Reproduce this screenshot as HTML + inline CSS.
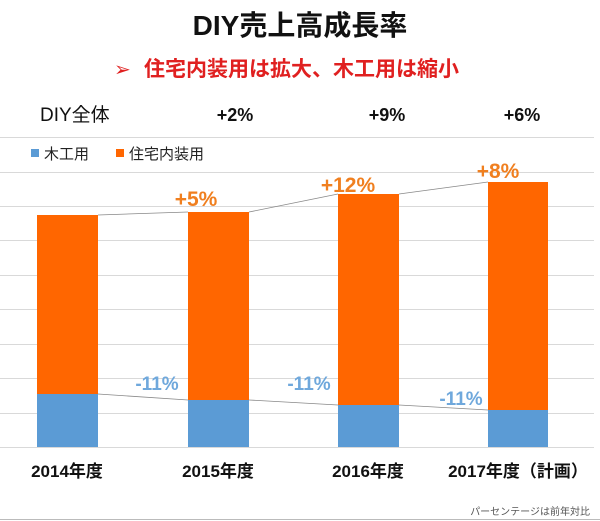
<!DOCTYPE html><html><head><meta charset="utf-8"><style>
body{margin:0;width:600px;height:521px;background:#fff;overflow:hidden;font-family:"Liberation Sans","Noto Sans CJK JP",sans-serif;}
</style></head><body>
<svg width="600" height="521" style="position:absolute;left:0;top:0" font-family="Liberation Sans, Noto Sans CJK JP, sans-serif">
<g stroke="#d9d9d9" stroke-width="1">
<line x1="0" y1="137.5" x2="594" y2="137.5"/>
<line x1="0" y1="172.5" x2="594" y2="172.5"/>
<line x1="0" y1="206.5" x2="594" y2="206.5"/>
<line x1="0" y1="240.5" x2="594" y2="240.5"/>
<line x1="0" y1="275.5" x2="594" y2="275.5"/>
<line x1="0" y1="309.5" x2="594" y2="309.5"/>
<line x1="0" y1="344.5" x2="594" y2="344.5"/>
<line x1="0" y1="378.5" x2="594" y2="378.5"/>
<line x1="0" y1="413.5" x2="594" y2="413.5"/>
<line x1="0" y1="447.5" x2="594" y2="447.5"/>
</g>
<g fill="#ff6600">
<rect x="37" y="215" width="61" height="179"/>
<rect x="188" y="212" width="61" height="188"/>
<rect x="338" y="194" width="61" height="211"/>
<rect x="488" y="182" width="60" height="228"/>
</g>
<g fill="#5b9bd5">
<rect x="37" y="394" width="61" height="53"/>
<rect x="188" y="400" width="61" height="47"/>
<rect x="338" y="405" width="61" height="42"/>
<rect x="488" y="410" width="60" height="37"/>
</g>
<g stroke="#888" stroke-width="0.8">
<line x1="98" y1="215" x2="188" y2="212"/>
<line x1="249" y1="212" x2="338" y2="194"/>
<line x1="399" y1="194" x2="488" y2="182"/>
<line x1="98" y1="394" x2="188" y2="400"/>
<line x1="249" y1="400" x2="338" y2="405"/>
<line x1="399" y1="405" x2="488" y2="410"/>
</g>
<g font-weight="bold" fill="#f07f1f" font-size="21" text-anchor="middle">
<text x="196" y="206">+5%</text>
<text x="348" y="192">+12%</text>
<text x="498" y="178">+8%</text>
</g>
<g font-weight="bold" fill="#6fa8dc" font-size="19" text-anchor="middle">
<text x="157" y="390">-11%</text>
<text x="309" y="390">-11%</text>
<text x="461" y="405">-11%</text>
</g>
<g font-weight="bold" fill="#111" font-size="17" text-anchor="middle">
<text x="67" y="477">2014年度</text>
<text x="218" y="477">2015年度</text>
<text x="368" y="477">2016年度</text>
<text x="518" y="477">2017年度（計画）</text>
</g>
<text x="590" y="515" font-size="10" fill="#555" text-anchor="end">パーセンテージは前年対比</text>
<line x1="0" y1="519.5" x2="600" y2="519.5" stroke="#bbb"/>
<text x="300" y="35" font-size="28" font-weight="bold" text-anchor="middle" fill="#111">DIY売上高成長率</text>
<text x="114" y="76" font-size="20" fill="#e02020">➢</text>
<text x="144" y="76" font-size="21" font-weight="bold" fill="#e02020">住宅内装用は拡大、木工用は縮小</text>
<text x="40" y="121" font-size="19" fill="#111">DIY全体</text>
<g font-size="18" font-weight="bold" fill="#111" text-anchor="middle">
<text x="235" y="121">+2%</text>
<text x="387" y="121">+9%</text>
<text x="522" y="121">+6%</text>
</g>
<rect x="31" y="149" width="8" height="8" fill="#5b9bd5"/>
<text x="44" y="159" font-size="15" fill="#222">木工用</text>
<rect x="116" y="149" width="8" height="8" fill="#ff6600"/>
<text x="129" y="159" font-size="15" fill="#222">住宅内装用</text>
</svg>
</body></html>
